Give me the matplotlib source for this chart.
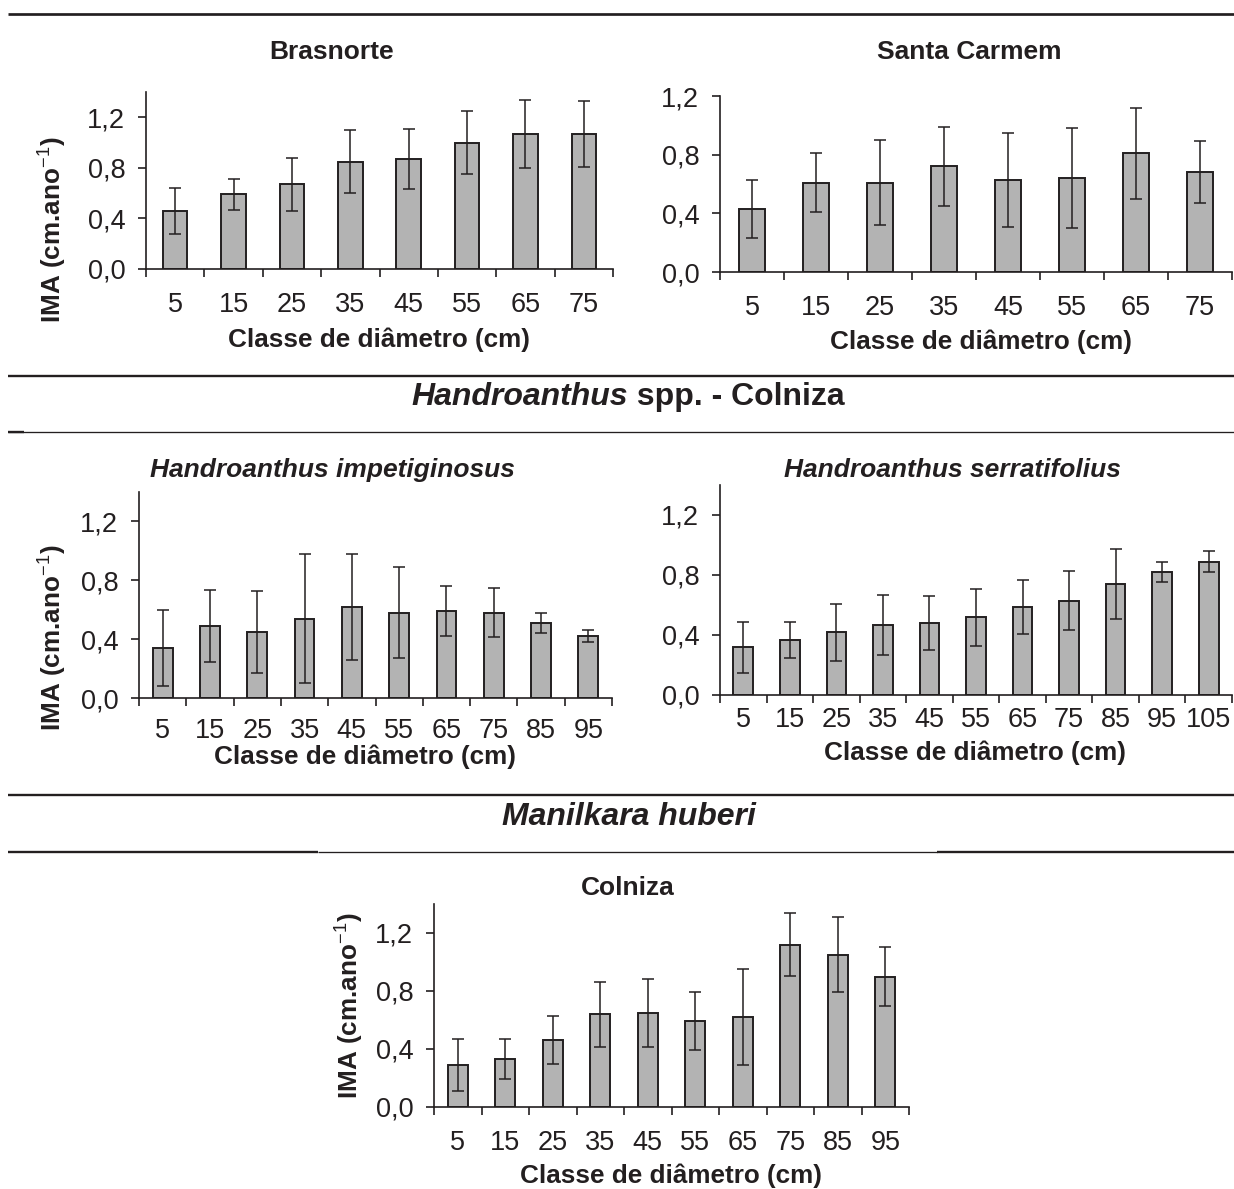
import matplotlib
matplotlib.use("Agg")
import matplotlib.pyplot as plt
from matplotlib.lines import Line2D
import numpy as np

plt.rcParams["font.family"] = ["Liberation Sans", "DejaVu Sans"]
plt.rcParams["mathtext.fontset"] = "custom"
plt.rcParams["mathtext.rm"] = "Liberation Sans"
plt.rcParams["mathtext.it"] = "Liberation Sans:italic"
plt.rcParams["mathtext.bf"] = "Liberation Sans:bold"

# ---------------- data ----------------
classes_8 = ["5", "15", "25", "35", "45", "55", "65", "75"]
classes_10 = ["5", "15", "25", "35", "45", "55", "65", "75", "85", "95"]
classes_11 = ["5", "15", "25", "35", "45", "55", "65", "75", "85", "95", "105"]

brasnorte_mean = [0.46, 0.59, 0.67, 0.85, 0.87, 1.00, 1.07, 1.07]
brasnorte_sd = [0.18, 0.12, 0.21, 0.25, 0.24, 0.25, 0.27, 0.26]

santa_carmem_mean = [0.43, 0.61, 0.61, 0.72, 0.63, 0.64, 0.81, 0.68]
santa_carmem_sd = [0.20, 0.20, 0.29, 0.27, 0.32, 0.34, 0.31, 0.21]

impetiginosus_mean = [0.34, 0.49, 0.45, 0.54, 0.62, 0.58, 0.59, 0.58, 0.51, 0.42]
impetiginosus_sd = [0.26, 0.245, 0.28, 0.44, 0.36, 0.31, 0.17, 0.165, 0.07, 0.04]

serratifolius_mean = [0.32, 0.37, 0.42, 0.47, 0.48, 0.52, 0.59, 0.63, 0.74, 0.82, 0.89]
serratifolius_sd = [0.17, 0.12, 0.19, 0.20, 0.18, 0.19, 0.18, 0.195, 0.235, 0.065, 0.068]

manilkara_mean = [0.29, 0.33, 0.46, 0.64, 0.65, 0.59, 0.62, 1.12, 1.05, 0.90]
manilkara_sd = [0.18, 0.14, 0.165, 0.225, 0.235, 0.20, 0.33, 0.215, 0.26, 0.205]

ytick_values = [0.0, 0.4, 0.8, 1.2]
ytick_labels = ["0,0", "0,4", "0,8", "1,2"]

XLABEL = "Classe de diâmetro (cm)"
YLABEL = r"IMA (cm.ano$^{-1}$)"

# ---------------- style ----------------
W, H, DPI = 1234, 1189, 100
INK = "#231f20"
BAR = "#b3b3b3"
TICK_FS = 19.5
LABEL_FS = 18.8
TITLE_FS = 19
SECTION_FS = 23

fig = plt.figure(figsize=(W / DPI, H / DPI), dpi=DPI)


def fx(x):
    return x / W


def fy(y):
    return 1 - y / H


def axes_px(left, top, right, bottom):
    return fig.add_axes([fx(left), fy(bottom), (right - left) / W, (bottom - top) / H])


def text_px(x, y, s, **kw):
    kw.setdefault("ha", "center")
    kw.setdefault("va", "center")
    kw.setdefault("color", INK)
    return fig.text(fx(x), fy(y), s, **kw)


def hline_px(y, x0, x1, lw):
    fig.add_artist(Line2D([fx(x0), fx(x1)], [fy(y), fy(y)], transform=fig.transFigure,
                          color=INK, linewidth=lw, solid_capstyle="butt"))


def bar_panel(box, labels, means, sds, ymax, xpad):
    ax = axes_px(*box)
    x = np.arange(len(labels))
    ax.bar(x, means, width=0.42, color=BAR, edgecolor=INK, linewidth=1.4, zorder=2)
    ax.errorbar(x, means, yerr=sds, fmt="none", ecolor=INK, elinewidth=1.1,
                capsize=4.5, capthick=1.1, zorder=3)
    ax.set_xlim(-0.5, len(labels) - 0.5)
    ax.set_ylim(0, ymax)
    ax.set_xticks(np.arange(len(labels) + 1) - 0.5)
    ax.set_xticklabels([])
    ax.set_xticks(x, minor=True)
    ax.set_xticklabels(labels, minor=True)
    ax.tick_params(axis="x", which="major", direction="out", length=6, width=1.2, color=INK)
    ax.tick_params(axis="x", which="minor", length=0, pad=xpad, labelsize=TICK_FS,
                   labelcolor=INK)
    ax.set_yticks(ytick_values)
    ax.set_yticklabels(ytick_labels)
    ax.tick_params(axis="y", direction="out", length=6, width=1.2, color=INK, pad=9,
                   labelsize=TICK_FS, labelcolor=INK)
    for side in ("top", "right"):
        ax.spines[side].set_visible(False)
    for side in ("left", "bottom"):
        ax.spines[side].set_color(INK)
        ax.spines[side].set_linewidth(1.2)
    ax.patch.set_alpha(0)
    return ax


# ---------------- panels ----------------
bar_panel((146, 92, 613, 269), classes_8, brasnorte_mean, brasnorte_sd, 1.4, 16.5)
bar_panel((720, 96, 1232, 272), classes_8, santa_carmem_mean, santa_carmem_sd, 1.2, 16.5)
bar_panel((139, 492, 612, 698), classes_10, impetiginosus_mean, impetiginosus_sd, 1.4, 14.5)
bar_panel((720, 485, 1232, 695), classes_11, serratifolius_mean, serratifolius_sd, 1.4, 8.5)
bar_panel((434, 904, 909, 1107), classes_10, manilkara_mean, manilkara_sd, 1.4, 16.5)

# panel titles
text_px(332, 52, "Brasnorte", fontsize=TITLE_FS, fontweight="bold")
text_px(969, 52, "Santa Carmem", fontsize=TITLE_FS, fontweight="bold")
text_px(332, 470, "Handroanthus impetiginosus", fontsize=TITLE_FS, fontweight="bold",
        fontstyle="italic")
text_px(952, 470, "Handroanthus serratifolius", fontsize=TITLE_FS, fontweight="bold",
        fontstyle="italic")
text_px(628, 888, "Colniza", fontsize=TITLE_FS, fontweight="bold")

# axis labels
text_px(379, 340, XLABEL, fontsize=LABEL_FS, fontweight="bold")
text_px(981, 342, XLABEL, fontsize=LABEL_FS, fontweight="bold")
text_px(365, 757, XLABEL, fontsize=LABEL_FS, fontweight="bold")
text_px(975, 753, XLABEL, fontsize=LABEL_FS, fontweight="bold")
text_px(671, 1176, XLABEL, fontsize=LABEL_FS, fontweight="bold")

text_px(53, 230, YLABEL, fontsize=LABEL_FS, fontweight="bold", rotation=90)
text_px(53, 638, YLABEL, fontsize=LABEL_FS, fontweight="bold", rotation=90)
text_px(350, 1006, YLABEL, fontsize=LABEL_FS, fontweight="bold", rotation=90)

# section headings (species name in italic, rest upright)
def heading(parts, xc, yc):
    items = [text_px(0, yc, s, fontsize=SECTION_FS, fontweight="bold", fontstyle=st, ha="left")
             for s, st in parts]
    fig.canvas.draw()
    renderer = fig.canvas.get_renderer()
    widths = [t.get_window_extent(renderer).width for t in items]
    x = xc - sum(widths) / 2
    for t, w in zip(items, widths):
        t.set_x(fx(x))
        x += w


heading([("Handroanthus", "italic"), (" spp. - Colniza", "normal")], 628, 397)
heading([("Manilkara huberi", "italic")], 629, 817)

# separator rules
hline_px(14, 8, 1234, 1.95)
hline_px(376, 8, 1234, 1.7)
hline_px(432, 8, 1234, 0.95)
hline_px(432, 8, 24, 1.7)
hline_px(795, 8, 1234, 1.7)
hline_px(852, 8, 318, 1.7)
hline_px(852, 318, 937, 0.95)
hline_px(852, 937, 1234, 1.7)

fig.savefig("out.png", dpi=DPI)
